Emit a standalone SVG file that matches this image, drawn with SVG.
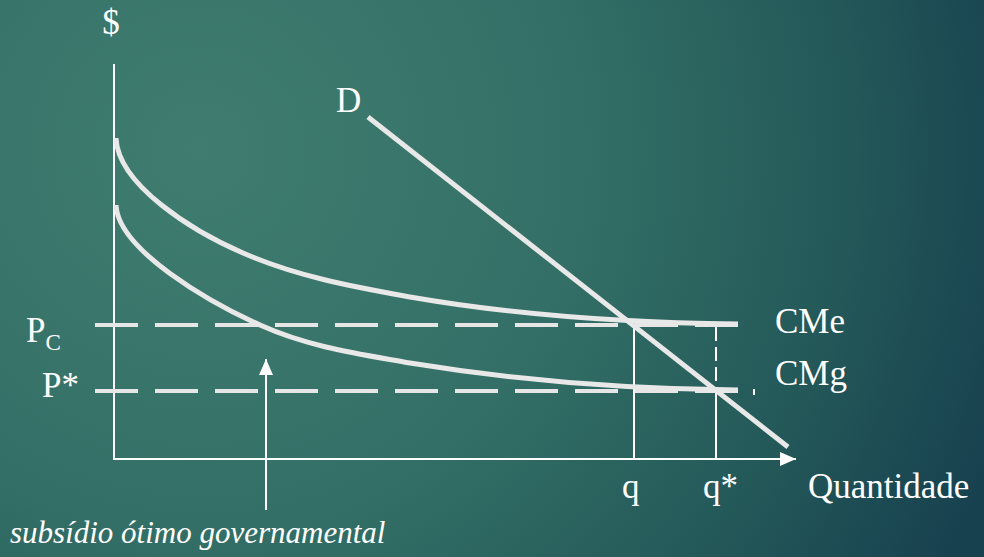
<svg xmlns="http://www.w3.org/2000/svg" width="984" height="557" viewBox="0 0 984 557">
<defs>
<radialGradient id="bg" cx="200" cy="150" r="850" gradientUnits="userSpaceOnUse">
<stop offset="0" stop-color="#407d70"/>
<stop offset="0.45" stop-color="#336f66"/>
<stop offset="0.75" stop-color="#245959"/>
<stop offset="1" stop-color="#17414f"/>
</radialGradient>
<marker id="ah" markerWidth="16" markerHeight="14" refX="16" refY="7" orient="auto" markerUnits="userSpaceOnUse">
<path d="M0,0 L16,7 L0,14 Z" fill="#ffffff"/>
</marker>
</defs>
<style>
.t{font-family:"Liberation Serif","Times New Roman",serif;fill:#ffffff;font-size:35px}
.it{font-style:italic;font-size:31px}
.axis{stroke:#ffffff;stroke-width:2;fill:none}
.curve{stroke:#e8e8e8;stroke-width:5;fill:none;stroke-linecap:butt}
.dash{stroke:#e6e6e6;stroke-width:4;fill:none;stroke-dasharray:43 17}
.thin{stroke:#ffffff;stroke-width:2;fill:none}
</style>
<rect width="984" height="557" fill="url(#bg)"/>
<g id="connectors">
<line class="axis" x1="114" y1="64" x2="114" y2="459"/>
<line class="axis" x1="113" y1="459" x2="796" y2="459" marker-end="url(#ah)"/>
<line class="dash" x1="95" y1="325" x2="738" y2="325"/>
<line class="dash" x1="95" y1="391" x2="738" y2="391"/>
<line class="thin" x1="634" y1="325" x2="634" y2="459"/>
<line class="thin" x1="716" y1="327" x2="716" y2="391" stroke-dasharray="14 6"/>
<line class="thin" x1="716" y1="391" x2="716" y2="459"/>
<line class="thin" x1="754" y1="389" x2="754" y2="395" stroke-width="1.5"/>
<line class="thin" x1="266" y1="510" x2="266" y2="359" marker-end="url(#ah)"/>
</g>
<g id="curve-CMe">
<path class="curve" d="M116,138 C118,185 193,231.5 243,253 C298,277 355,287 410,297 C520,316 630,323 738,324"/>
</g>
<g id="curve-CMg">
<path class="curve" d="M116,205 C118,250 210,302.5 260,325 C310,347.5 360,354 410,363 C520,381 630,389 738,390"/>
</g>
<g id="line-D">
<line class="curve" x1="368" y1="117" x2="788" y2="447"/>
</g>
<g id="labels">
<text class="t" x="111" y="34" text-anchor="middle">$</text>
<text class="t" x="336" y="112">D</text>
<text class="t" x="775" y="333">CMe</text>
<text class="t" x="775" y="385">CMg</text>
<text class="t" x="26" y="342">P<tspan font-size="23" dy="8">C</tspan></text>
<text class="t" x="42" y="397">P*</text>
<text class="t" x="622" y="498">q</text>
<text class="t" x="703" y="498">q*</text>
<text class="t" x="808" y="498">Quantidade</text>
<text class="t it" x="10" y="543">subsídio ótimo governamental</text>
</g>
</svg>
